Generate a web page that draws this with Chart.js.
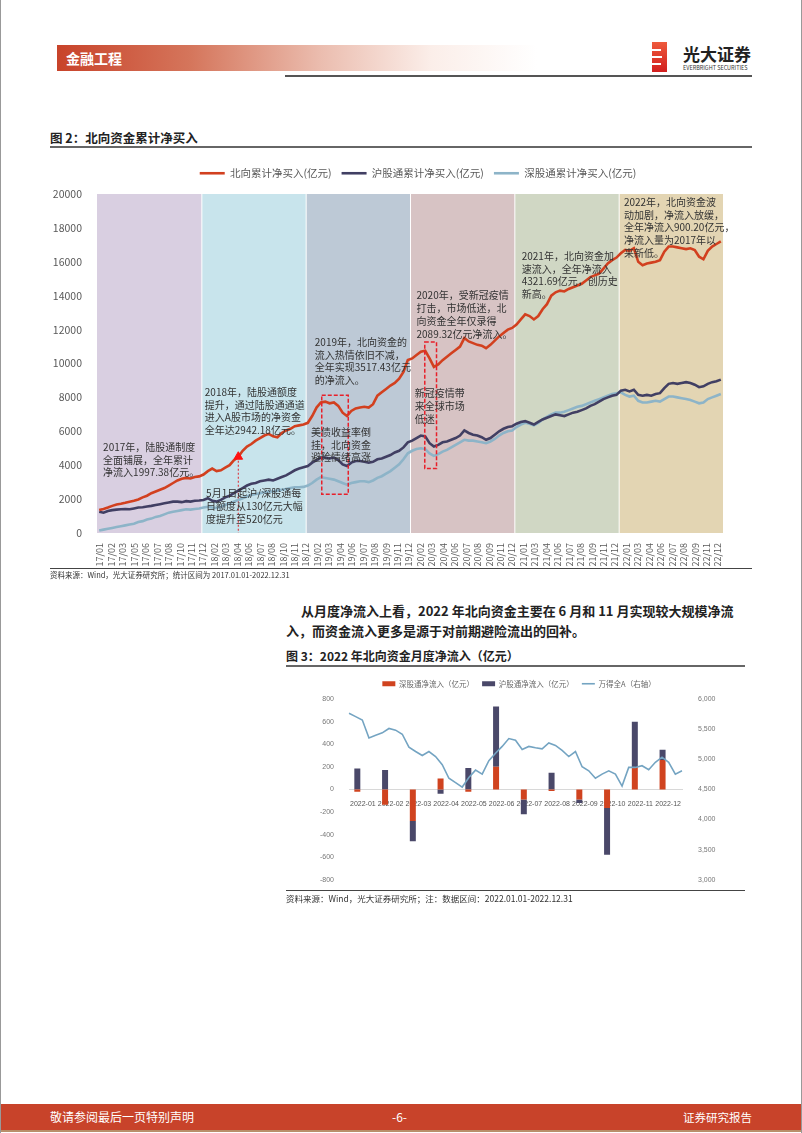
<!DOCTYPE html>
<html>
<head>
<meta charset="utf-8">
<script src="https://cdn.jsdelivr.net/npm/chart.js@4.4.0/dist/chart.umd.min.js"></script>
<style>
  body { margin: 0; width: 802px; height: 1133px; position: relative; background: #fff; overflow: hidden;
         font-family: "Noto Sans CJK SC", "Noto Sans", sans-serif; }
  .abs { position: absolute; white-space: nowrap; }
  .rule { position: absolute; height: 2px; background: #666; }
</style>
</head>
<body>
<div class="abs" style="left:0;top:0;width:1px;height:1133px;background:#999"></div>
<div class="abs" style="left:801px;top:0;width:1px;height:1133px;background:#999"></div>

<!-- header -->
<div class="abs" style="left:57px;top:45px;width:480px;height:26px;background:linear-gradient(90deg,#c8432a 0%,#d5765c 28%,#ebbdaf 55%,#fbeee9 78%,#fff 100%)"></div>
<div class="abs" style="left:66px;top:49px;font-size:14px;line-height:18px;font-weight:bold;color:#fff">金融工程</div>
<div class="abs" style="left:652px;top:42px;width:15px;height:30px;background:linear-gradient(180deg,#ee5a3c,#d21f1f)"></div>
<div class="abs" style="left:652px;top:49px;width:9px;height:2px;background:#fff"></div>
<div class="abs" style="left:652px;top:56px;width:10px;height:2px;background:#fff"></div>
<div class="abs" style="left:652px;top:63px;width:9px;height:2px;background:#fff"></div>
<div class="abs" style="left:683px;top:44px;font-size:17px;line-height:20px;font-weight:bold;color:#222">光大证券</div>
<div class="abs" style="left:683px;top:65px;font-size:5.5px;line-height:6px;color:#333">EVERBRIGHT SECURITIES</div>
<div class="rule" style="left:285px;top:75px;width:467px;background:#555"></div>

<!-- figure 2 -->
<div class="abs" style="left:50px;top:130px;font-size:12.5px;line-height:16px;font-weight:bold;color:#222">图 2：北向资金累计净买入</div>
<div class="rule" style="left:50px;top:146px;width:702px"></div>
<div class="abs" style="left:40px;top:158px;width:756px;height:412px"><canvas id="flowChart"></canvas></div>
<div class="rule" style="left:50px;top:568px;width:702px;height:1px;background:#444"></div>
<div class="abs" style="left:50px;top:570px;font-size:7.5px;line-height:10px;color:#333">资料来源：Wind，光大证券研究所；统计区间为 2017.01.01-2022.12.31</div>

<!-- paragraph -->
<div class="abs" style="left:301px;top:602px;font-size:13px;line-height:18px;font-weight:bold;color:#222">从月度净流入上看，2022 年北向资金主要在 6 月和 11 月实现较大规模净流</div>
<div class="abs" style="left:286px;top:622px;font-size:13px;line-height:18px;font-weight:bold;color:#222">入，而资金流入更多是源于对前期避险流出的回补。</div>

<!-- figure 3 -->
<div class="abs" style="left:286px;top:648px;font-size:12px;line-height:16px;font-weight:bold;color:#222">图 3：2022 年北向资金月度净流入（亿元）</div>
<div class="rule" style="left:286px;top:665px;width:459px"></div>
<div class="abs" style="left:290px;top:672px;width:458px;height:220px"><canvas id="monthChart"></canvas></div>
<div class="rule" style="left:286px;top:890px;width:459px;height:1px;background:#444"></div>
<div class="abs" style="left:286px;top:893px;font-size:8.5px;line-height:11px;color:#333">资料来源：Wind，光大证券研究所；注：数据区间：2022.01.01-2022.12.31</div>

<!-- footer -->
<div class="abs" style="left:1px;top:1104px;width:800px;height:26px;background:#c8432a"></div>
<div class="abs" style="left:1px;top:1130px;width:800px;height:2px;background:#b98f6a"></div>
<div class="abs" style="left:50px;top:1109px;font-size:12px;line-height:16px;color:#fff">敬请参阅最后一页特别声明</div>
<div class="abs" style="left:392px;top:1109px;font-size:12px;line-height:16px;color:#fff">-6-</div>
<div class="abs" style="left:683px;top:1109px;font-size:11.5px;line-height:16px;color:#fff">证券研究报告</div>

<script>
Chart.defaults.font.family = '"Noto Sans CJK SC", "Noto Sans", sans-serif';
Chart.defaults.color = '#595959';

// ---------- Figure 2: cumulative northbound net buying (half-month points) ----------
const bandColors = ['#d9cfe1', '#c8e4ec', '#bdc9d6', '#d7c3c4', '#d0d7c4', '#e3d5b3'];
const tickLabels = ['17/01', '17/02', '17/03', '17/05', '17/06', '17/07', '17/08', '17/10', '17/11', '17/12',
  '18/02', '18/03', '18/04', '18/06', '18/07', '18/08', '18/10', '18/11', '18/12',
  '19/02', '19/03', '19/04', '19/06', '19/07', '19/08', '19/09', '19/11', '19/12',
  '20/02', '20/03', '20/04', '20/06', '20/07', '20/08', '20/09', '20/11', '20/12',
  '21/01', '21/03', '21/04', '21/06', '21/07', '21/08', '21/09', '21/11', '21/12',
  '22/01', '22/03', '22/04', '22/06', '22/07', '22/08', '22/09', '22/11', '22/12'];

const north = [
  1350, 1420, 1500, 1600, 1680, 1720, 1780, 1850, 1900, 1980, 2100, 2200, 2350, 2450, 2550, 2650, 2800, 2950, 3100, 3200, 3250, 3220, 3300, 3340,
  3450, 3650, 3800, 3650, 3700, 3850, 4000, 4300, 4500, 4850, 5100, 5250, 5450, 5600, 5750, 5850, 5700, 5650, 5900, 6050, 6150, 6300, 6350, 6400,
  6500, 6900, 7400, 7700, 7750, 7650, 7700, 7500, 7100, 6900, 7200, 7350, 7400, 7450, 7400, 7600, 8100, 8300, 8500, 8700, 8850, 9100, 9500, 10200,
  10300, 10500, 10700, 10750, 10300, 9800, 9950, 10200, 10400, 10600, 10800, 11000, 11500, 11300, 11200, 11100, 11050, 10900, 11100, 11350, 11600, 11800, 12000, 12100,
  12300, 12600, 12900, 12800, 12600, 12800, 13200, 13500, 14000, 14200, 14300, 14250, 14400, 14500, 14600, 14700, 14900, 15100, 15200, 15300, 15600, 15900, 16100, 16250,
  16500, 16700, 16650, 16800, 16000, 15800, 15900, 15950, 16000, 16100, 16600, 16900, 16900, 16850, 16800, 16750, 16800, 16700, 16300, 16150, 16650, 16900, 17050, 17200];

const shanghai = [
  1250, 1200, 1300, 1350, 1380, 1400, 1420, 1400, 1450, 1500, 1520, 1560, 1600, 1650, 1700, 1750, 1800, 1850, 1850, 1820, 1880, 1850, 1900, 1920,
  1950, 2050, 1900, 1850, 1950, 2100, 2200, 2350, 2500, 2650, 2800, 2900, 2950, 3050, 3100, 3150, 3100, 3200, 3300, 3400, 3550, 3700, 3800, 3880,
  3950, 4150, 4300, 4450, 4450, 4400, 4450, 4300, 4050, 3950, 4150, 4250, 4250, 4200, 4150, 4200, 4350, 4400, 4500, 4600, 4750, 4850, 5050, 5350,
  5450, 5600, 5750, 5700, 5300, 5100, 5200, 5350, 5400, 5500, 5600, 5750, 6050, 5900, 5800, 5750, 5650, 5500, 5600, 5800, 6000, 6150, 6250, 6300,
  6450, 6550, 6600, 6500, 6400, 6550, 6700, 6800, 6900, 7000, 6950, 6900, 7000, 7100, 7150, 7250, 7350, 7500, 7600, 7750, 7900, 8000, 8100, 8150,
  8400, 8450, 8350, 8450, 8150, 8100, 8150, 8100, 8200, 8250, 8550, 8800, 8850, 8800, 8850, 8900, 8850, 8750, 8600, 8650, 8800, 8900, 8950, 9050];

const shenzhen = [
  150, 200, 250, 300, 350, 400, 450, 500, 550, 650, 700, 800, 850, 950, 1000, 1100, 1200, 1250, 1300, 1350, 1400, 1380, 1420, 1450,
  1500, 1550, 1500, 1480, 1550, 1650, 1750, 1850, 1950, 2050, 2150, 2250, 2300, 2350, 2400, 2450, 2450, 2500, 2550, 2600, 2650, 2700, 2700, 2720,
  2800, 2950, 3150, 3300, 3250, 3200, 3150, 3050, 2950, 2850, 2950, 3000, 3050, 3050, 3000, 3100, 3250, 3350, 3500, 3650, 3850, 4050, 4350, 4700,
  4850, 4950, 5000, 4950, 4700, 4550, 4650, 4800, 4900, 5050, 5200, 5350, 5500, 5450, 5450, 5400, 5350, 5300, 5400, 5550, 5750, 5900, 6000, 6050,
  6250, 6400, 6500, 6450, 6350, 6500, 6700, 6850, 7000, 7100, 7100, 7150, 7250, 7350, 7450, 7500, 7600, 7700, 7800, 7900, 8000, 8100, 8200, 8250,
  8300, 8150, 8050, 8100, 7800, 7700, 7700, 7750, 7800, 7750, 7900, 8050, 8050, 8000, 7950, 7900, 7850, 7750, 7650, 7700, 7900, 8000, 8100, 8200];

// index of 2018-05-01 quota raise (half-month point)
const quotaRaise = 32;

// annotation text blocks, anchored in data units (x = half-month index, y = value)
const notes = [
  { x: 0.9, y: 5075, lines: ['2017年，陆股通制度', '全面铺展，全年累计', '净流入1997.38亿元。'] },
  { x: 24.3, y: 8320, lines: ['2018年，陆股通额度', '提升，通过陆股通通道', '进入A股市场的净资金', '全年达2942.18亿元。'] },
  { x: 49.6, y: 11270, lines: ['2019年，北向资金的', '流入热情依旧不减，', '全年实现3517.43亿元', '的净流入。'] },
  { x: 48.7, y: 5960, lines: ['美债收益率倒', '挂，北向资金', '避险情绪高涨'] },
  { x: 24.6, y: 2340, lines: ['5月1日起沪/深股通每', '日额度从130亿元大幅', '度提升至520亿元'] },
  { x: 73.0, y: 14020, lines: ['2020年，受新冠疫情', '打击，市场低迷，北', '向资金全年仅录得', '2089.32亿元净流入。'] },
  { x: 72.6, y: 8240, lines: ['新冠疫情带', '来全球市场', '低迷'] },
  { x: 97.2, y: 16340, lines: ['2021年，北向资金加', '速流入，全年净流入', '4321.69亿元，创历史', '新高。'] },
  { x: 120.7, y: 19530, lines: ['2022年，北向资金波', '动加剧，净流入放缓，', '全年净流入900.20亿元，', '净流入量为2017年以', '来新低。'] }
];
// dashed highlight boxes (x range in half-month index, y range in value)
const highlights = [
  { x0: 51.2, x1: 57.3, y0: 2280, y1: 8120 },
  { x0: 74.9, x1: 77.6, y0: 3800, y1: 11270 }
];

const asPoints = arr => arr.map((v, i) => ({ x: i, y: v }));

const fixLegend = h => ({
  id: 'fixLegend',
  beforeLayout(chart) {
    if (chart.legend && !chart.legend._patched) {
      const fit = chart.legend.fit;
      chart.legend.fit = function () { fit.call(this); this.height = h; };
      chart.legend._patched = true;
    }
  }
});

const bandPlugin = {
  id: 'bands',
  beforeDatasetsDraw(chart) {
    const { ctx, chartArea: a, scales: { x, y } } = chart;
    ctx.save();
    bandColors.forEach((c, k) => {
      const l = x.getPixelForValue(k * 24 - 0.5) + (k ? 1 : 0);
      const r = x.getPixelForValue(k * 24 + 23.5);
      ctx.fillStyle = c;
      ctx.fillRect(l, a.top, r - l, a.bottom - a.top);
    });
    // dotted marker line for the quota raise
    const px = x.getPixelForValue(quotaRaise);
    ctx.strokeStyle = '#e0242a';
    ctx.lineWidth = 1;
    ctx.setLineDash([2, 2]);
    ctx.beginPath();
    ctx.moveTo(px, y.getPixelForValue(north[quotaRaise]));
    ctx.lineTo(px, a.bottom);
    ctx.stroke();
    ctx.restore();
  },
  afterDatasetsDraw(chart) {
    const { ctx, scales: { x, y } } = chart;
    ctx.save();
    ctx.strokeStyle = '#e8202a';
    ctx.lineWidth = 1.5;
    ctx.setLineDash([4, 2]);
    highlights.forEach(b => {
      const l = x.getPixelForValue(b.x0), r = x.getPixelForValue(b.x1);
      const t = y.getPixelForValue(b.y1), btm = y.getPixelForValue(b.y0);
      ctx.strokeRect(l, t, r - l, btm - t);
    });
    ctx.setLineDash([]);
    ctx.font = '10px "Noto Sans CJK SC"';
    ctx.fillStyle = '#333';
    ctx.textBaseline = 'middle';
    notes.forEach(n => {
      const px = x.getPixelForValue(n.x), py = y.getPixelForValue(n.y);
      n.lines.forEach((s, i) => ctx.fillText(s, px, py + i * 12.8));
    });
    ctx.restore();
  }
};

new Chart(document.getElementById('flowChart'), {
  type: 'line',
  data: {
    datasets: [
      { label: '北向累计净买入(亿元)', data: asPoints(north), borderColor: '#d2401f', borderWidth: 2.6, pointRadius: 0, pointStyle: 'line', order: 1 },
      { label: '沪股通累计净买入(亿元)', data: asPoints(shanghai), borderColor: '#413f63', borderWidth: 2.6, pointRadius: 0, pointStyle: 'line', order: 2 },
      { label: '深股通累计净买入(亿元)', data: asPoints(shenzhen), borderColor: '#8db4c8', borderWidth: 2.6, pointRadius: 0, pointStyle: 'line', order: 3 },
      { type: 'scatter', label: 'marker', data: [{ x: quotaRaise, y: north[quotaRaise] }], pointStyle: 'triangle',
        pointRadius: 5, backgroundColor: '#ff1010', borderColor: '#ff1010', order: 0 }
    ]
  },
  options: {
    animation: false,
    responsive: true,
    maintainAspectRatio: false,
    plugins: {
      legend: {
        position: 'top',
        labels: {
          usePointStyle: true, pointStyleWidth: 25, boxHeight: 8, padding: 10,
          font: { size: 10.5 }, color: '#595959',
          filter: item => item.datasetIndex < 3,
          sort: (a, b) => a.datasetIndex - b.datasetIndex
        }
      },
      tooltip: { enabled: false }
    },
    scales: {
      x: {
        type: 'linear', min: -0.5, max: 143.5,
        grid: { display: false }, border: { display: false },
        afterBuildTicks: axis => {
          const step = 142.16 / (tickLabels.length - 1);
          axis.ticks = tickLabels.map((t, k) => ({ value: 0.19 + k * step }));
        },
        afterFit: scale => { scale.height = 37; },
        ticks: {
          autoSkip: false, minRotation: 90, maxRotation: 90, padding: 2,
          font: { size: 9 }, color: '#595959',
          callback: (v, i) => tickLabels[i]
        }
      },
      y: {
        min: 0, max: 20000,
        grid: { display: false }, border: { display: false },
        afterFit: scale => { scale.width = 57; },
        ticks: { stepSize: 2000, padding: 7, font: { size: 10.5 }, color: '#595959', callback: v => String(v) }
      },
      // empty right gutter so the legend centres over the whole figure
      gutter: {
        position: 'right', display: true,
        grid: { display: false }, border: { display: false },
        ticks: { display: false },
        afterFit: scale => { scale.width = 73; }
      }
    }
  },
  plugins: [bandPlugin, fixLegend(36)]
});

// ---------- Figure 3: 2022 monthly net inflow ----------
const months = ['2022-01', '2022-02', '2022-03', '2022-04', '2022-05', '2022-06',
  '2022-07', '2022-08', '2022-09', '2022-10', '2022-11', '2022-12'];
const szFlow = [-20, -135, -279, 96, -20, 201, -90, -15, -90, -165, 195, 261];
const shFlow = [186, 171, -179, -39, 189, 533, -129, 147, -30, -413, 404, 90];
// Wind All A index, weekly
const windA = [5764, 5708, 5652, 5354, 5399, 5438, 5511, 5483, 5416, 5202, 5129, 5062, 5129, 5045, 4910, 4685, 4612,
  4539, 4697, 4820, 4753, 4978, 5101, 5213, 5343, 5315, 5163, 5213, 5191, 5174, 5270, 5230, 5146, 5045, 5129,
  4876, 4809, 4685, 4753, 4809, 4753, 4556, 4865, 4865, 4893, 4826, 4949, 5034, 4949, 4753, 4809];

const smallFont = { family: '"Liberation Sans", Arial, sans-serif', size: 7 };

new Chart(document.getElementById('monthChart'), {
  type: 'bar',
  data: {
    labels: months,
    datasets: [
      { label: '深股通净流入（亿元）', data: szFlow, backgroundColor: '#d0431f', pointStyle: 'rect', order: 1,
        barPercentage: 0.54, categoryPercentage: 0.8 },
      { label: '沪股通净流入（亿元）', data: shFlow, backgroundColor: '#4a4869', pointStyle: 'rect', order: 1,
        barPercentage: 0.54, categoryPercentage: 0.8 },
      { type: 'line', label: '万得全A（右轴）', data: windA, xAxisID: 'x2', yAxisID: 'y2',
        borderColor: '#74a4c2', backgroundColor: '#74a4c2', borderWidth: 1.6, pointRadius: 0, pointStyle: 'line', order: 0 }
    ]
  },
  options: {
    animation: false,
    responsive: true,
    maintainAspectRatio: false,
    layout: { padding: { right: 0, bottom: 6, top: 0, left: 0 } },
    plugins: {
      legend: {
        position: 'top',
        labels: { usePointStyle: true, pointStyleWidth: 13, boxHeight: 5, padding: 8, font: { size: 7.5 }, color: '#666',
          sort: (a, b) => a.datasetIndex - b.datasetIndex }
      },
      tooltip: { enabled: false }
    },
    scales: {
      x: {
        stacked: true, position: { y: 0 },
        grid: { display: false },
        border: { display: true, color: '#d8d8d8', dash: [2, 2] },
        ticks: { font: smallFont, color: '#555', padding: 2, autoSkip: false, minRotation: 0, maxRotation: 0 }
      },
      x2: { type: 'category', labels: windA.map((v, i) => i), display: false, offset: false },
      y: {
        stacked: true, min: -800, max: 800,
        grid: { display: false }, border: { display: false },
        afterFit: scale => { scale.width = 59; },
        ticks: { stepSize: 200, padding: 7, font: smallFont, color: '#777' }
      },
      y2: {
        position: 'right', min: 3000, max: 6000,
        grid: { display: false }, border: { display: false },
        afterFit: scale => { scale.width = 66; },
        ticks: { stepSize: 500, padding: 8, font: smallFont, color: '#777',
          callback: v => v.toLocaleString('en-US') }
      }
    }
  },
  plugins: [fixLegend(27)]
});
</script>
</body>
</html>
